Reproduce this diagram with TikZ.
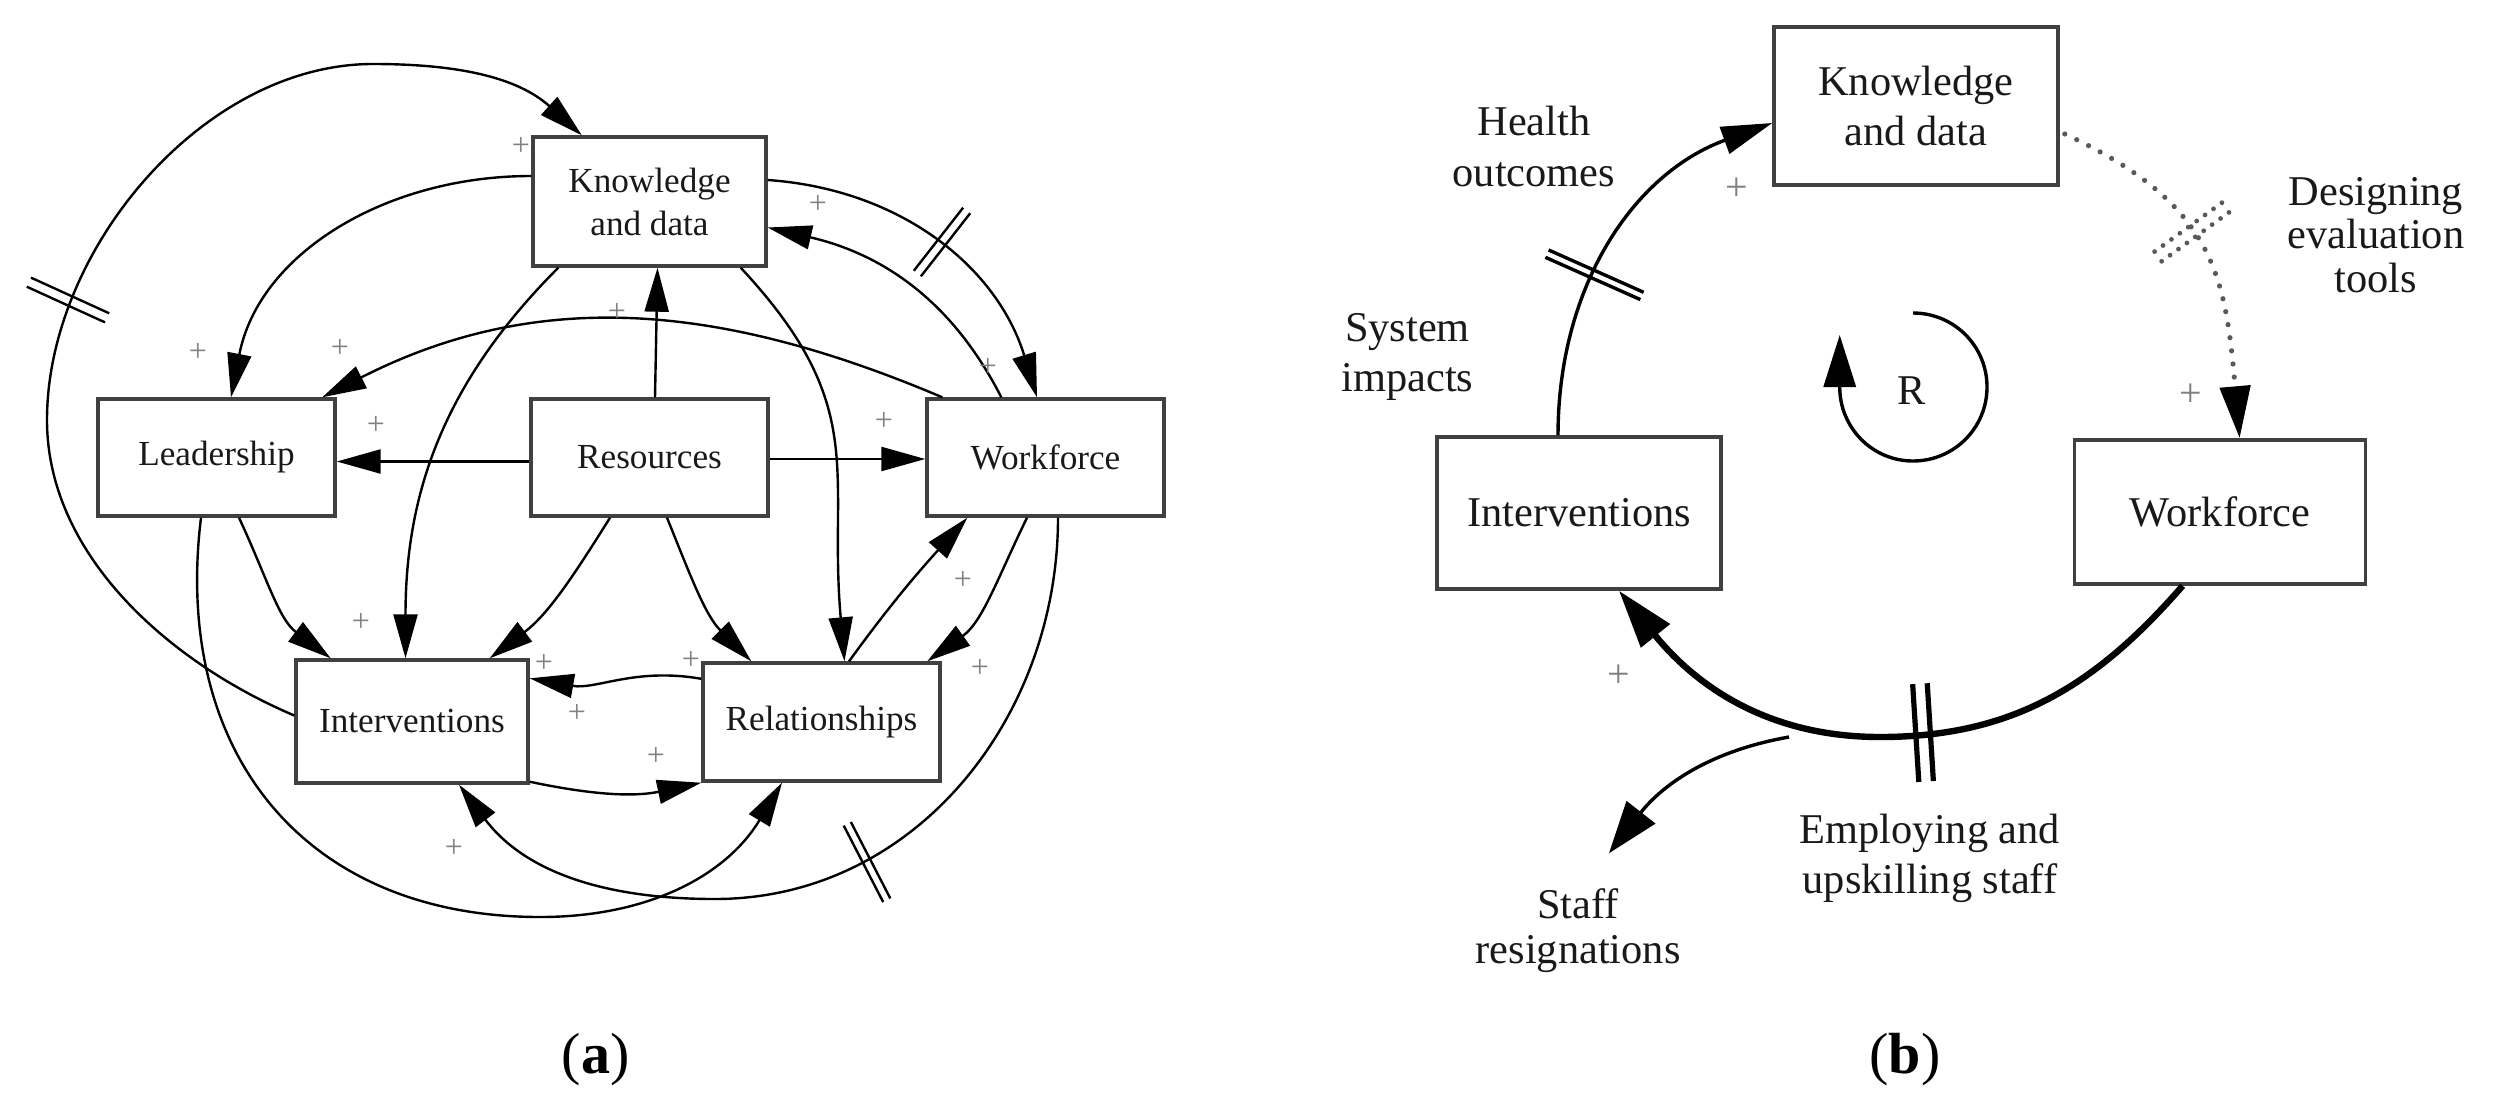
\documentclass[tikz,border=0pt]{standalone}
\usepackage{fontspec}
\setmainfont{Liberation Serif}
\usetikzlibrary{arrows.meta,calc}
\newcommand\hashmk[6]{\draw[#6, shift={(#1,#2)}, rotate=#3] (-#4,-#5) -- (-#4,#5) (#4,-#5) -- (#4,#5);}
\begin{document}
\begin{tikzpicture}[x=0.25pt,y=-0.25pt,
  boxa/.style={draw=black!75, line width=0.85pt, inner sep=0pt, align=center, text=black!90,
    font=\fontsize{8.8}{10.75}\selectfont},
  boxb/.style={draw=black!75, line width=0.9pt, inner sep=0pt, align=center, text=black!90,
    font=\fontsize{10.6}{12.5}\selectfont},
  la/.style={line width=0.6pt, -{Triangle[length=11pt,width=6pt]}},
  rb/.style={line width=0.85pt, -{Triangle[length=12.7pt,width=7pt]}},
  rthick/.style={line width=1.6pt, -{Triangle[length=14.5pt,width=9pt]}},
  rstaff/.style={line width=0.85pt, -{Triangle[length=13pt,width=9pt]}},
  rloop/.style={line width=0.85pt, -{Triangle[length=13pt,width=8pt]}},
  rdot/.style={draw=black!65, line width=1.3pt, line cap=round, dash pattern=on 0pt off 3.3pt,
    -{Triangle[length=13pt,width=7.5pt,color=black]}},
  hdot/.style={draw=black!65, line width=1.2pt, line cap=round, dash pattern=on 0pt off 2.6pt},
  hl/.style={line width=0.6pt},
  hr/.style={line width=0.85pt},
  hthick/.style={line width=1.3pt},
  pl/.style={text=black!50, inner sep=0pt, font=\fontsize{8}{8}\selectfont},
  plb/.style={text=black!50, inner sep=0pt, font=\fontsize{10}{10}\selectfont},
  lbl/.style={inner sep=0pt, align=center, text=black!90},
  captxt/.style={inner sep=0pt, font=\fontsize{14.5}{16}\selectfont}]
\useasboundingbox (0,0) rectangle (2502,1113);

% ---------------- (a) ----------------
\node[boxa, minimum width=58.25pt, minimum height=32.25pt] (K) at (649.5,201.5) {Knowledge\\and data};
\node[boxa, minimum width=59.25pt, minimum height=29.25pt] (L) at (216.5,457.5) {Leadership};
\node[boxa, minimum width=59.25pt, minimum height=29.25pt] (Rs) at (649.5,457.5) {Resources};
\node[boxa, minimum width=59.25pt, minimum height=29.25pt] (W) at (1045.5,457.5) {Workforce};
\node[boxa, minimum width=58pt, minimum height=30.75pt] (I) at (412,721.5) {Interventions};
\node[boxa, minimum width=59.25pt, minimum height=29.5pt] (Rl) at (821.5,722) {Relationships};

\coordinate (w1a) at (47,420);
\coordinate (w1b) at (373,64);
\coordinate (w18) at (540,917);
\coordinate (w19) at (715,899);

\draw[la] ($(I.west)+(0,-6)$) to[out=157,in=-90,looseness=0.9] (w1a)
  to[out=90,in=180,looseness=0.9] (w1b) to[out=0,in=138] ($(K.north west)+(50.5,0)$);
\draw[la] ($(K.west)+(0,-25.5)$) to[out=180,in=79] ($(L.north)+(14.5,0)$);
\draw[la] ($(W.north west)+(17,0)$) to[out=157,in=27] ($(L.north east)+(-14.5,0)$);
\draw[la] ($(Rs.west)+(0,4)$) -- ($(L.east)+(0,4)$);
\draw[la] ($(Rs.north)+(5.5,0)$) -- ($(K.south)+(8,0)$);
\draw[la] ($(Rs.east)+(0,1.5)$) -- ($(W.west)+(0,1.5)$);
\draw[la] ($(K.east)+(0,-21.5)$) to[out=-4,in=107] ($(W.north)+(-8.5,0)$);
\draw[la] ($(W.north west)+(76,0)$) to[out=117,in=-13] ($(K.east)+(0,26)$);
\draw[la] ($(K.south west)+(27,0)$) to[out=225,in=90] ($(I.north)+(-6.5,0)$);
\draw[la] ($(L.south)+(22.5,0)$) to[out=-65,in=143] ($(I.north west)+(36.4,0)$);
\draw[la] ($(Rs.south)+(-39.5,0)$) to[out=238,in=37] ($(I.north east)+(-40,0)$);
\draw[la] ($(Rs.south)+(17.5,0)$) to[out=-68,in=135] ($(Rl.north west)+(50,0)$);
\draw[la] ($(K.south east)+(-27,0)$) to[out=-47,in=95,looseness=1.2] ($(Rl.north)+(23,0)$);
\draw[la] ($(Rl.north)+(27.5,0)$) to[out=54,in=228] ($(W.south west)+(42,0)$);
\draw[la] ($(W.south)+(-18.5,0)$) to[out=244,in=35.5] ($(Rl.north east)+(-14.5,0)$);
\draw[la] ($(Rl.north west)+(0,17.5)$) to[out=170,in=-10] ($(I.north east)+(0,20)$);
\draw[la] ($(I.south east)+(0,-3)$) to[out=-12,in=192] (Rl.south west);
\draw[la] ($(L.south)+(-15.5,0)$) to[out=-97,in=180,looseness=1.15] (w18)
  to[out=0,in=239] ($(Rl.south)+(-39.5,0)$);
\draw[la] ($(W.south)+(12.5,0)$) to[out=-90,in=0] (w19) to[out=180,in=-53] ($(I.south)+(47,0)$);

\hashmk{68}{300}{65.5}{5}{43}{hl}
\hashmk{942}{242}{-38}{4.5}{40}{hl}
\hashmk{867}{862}{27.3}{4}{43}{hl}

\foreach \px/\py [count=\i] in {521/146,198/352,340/348,376/425,617/312,884/421,818/204,988/367,
  361/622,544/663,577/713,691/660,656/756,963/580,980/668,454/848}
  \node[pl] (pa\i) at (\px,\py) {+};

\node[captxt] (capa) at (595.5,1059.6) {(\textbf{a})};

% ---------------- (b) ----------------
\node[boxb, minimum width=71pt, minimum height=39.5pt] (Kb) at (1916,106) {Knowledge\\and data};
\node[boxb, minimum width=71pt, minimum height=38pt] (Ib) at (1579,513) {Interventions};
\node[boxb, minimum width=72.75pt, minimum height=36pt] (Wb) at (2220,512) {Workforce};

\node[lbl, font=\fontsize{10.6}{12.7}\selectfont] (ho) at (1534,146.5) {Health\\outcomes};
\node[lbl, font=\fontsize{10.6}{12.5}\selectfont] (si) at (1407.5,356.6) {System\\impacts};
\node[lbl, font=\fontsize{10.6}{10.85}\selectfont] (de) at (2376,235) {Designing\\evaluation\\tools};
\node[lbl, font=\fontsize{10.6}{11.25}\selectfont] (staff) at (1578,931) {Staff\\resignations};
\node[lbl, font=\fontsize{10.6}{12.5}\selectfont] (emp) at (1930,858) {Employing and\\upskilling staff};
\node[lbl, font=\fontsize{10.6}{12.5}\selectfont] (rl) at (1911.5,390.8) {R};

\coordinate (wC) at (1880,737);
\coordinate (sr) at (1789,737);

\draw[rb] ($(Ib.north)+(-21,0)$) to[out=90,in=200] ($(Kb.west)+(0,17)$);
\draw[rdot] ($(Kb.east)+(5,28)$) to[out=-25,in=95,looseness=1.2] ($(Wb.north)+(19.6,0)$);
\draw[rthick] ($(Wb.south)+(-37.4,0)$) to[out=229,in=0] (wC) to[out=180,in=-51] ($(Ib.south)+(40,0)$);
\draw[rstaff] (sr) to[out=190,in=52] ($(staff.north)+(31,-35)$);
\draw[rloop] ($(rl)+(1.5,-77.8)$) to[out=0,in=90] ($(rl)+(75.5,-3.8)$) to[out=-90,in=0] ($(rl)+(1.5,70.2)$)
  to[out=180,in=-90] ($(rl)+(-71.8,-3.8)$) -- ($(rl)+(-71.8,-55.8)$);

\hashmk{1594.5}{274.8}{66}{4}{52}{hr}
\hashmk{2189}{234}{-54}{6}{45}{hdot}
\hashmk{1923}{732.6}{3.6}{7.3}{49}{hthick}

\node[plb] (pb1) at (1737,189) {+};
\node[plb] (pb2) at (2191,395) {+};
\node[plb] (pb3) at (1619,676) {+};

\node[captxt] (capb) at (1905,1059.6) {(\textbf{b})};
\end{tikzpicture}
\end{document}
